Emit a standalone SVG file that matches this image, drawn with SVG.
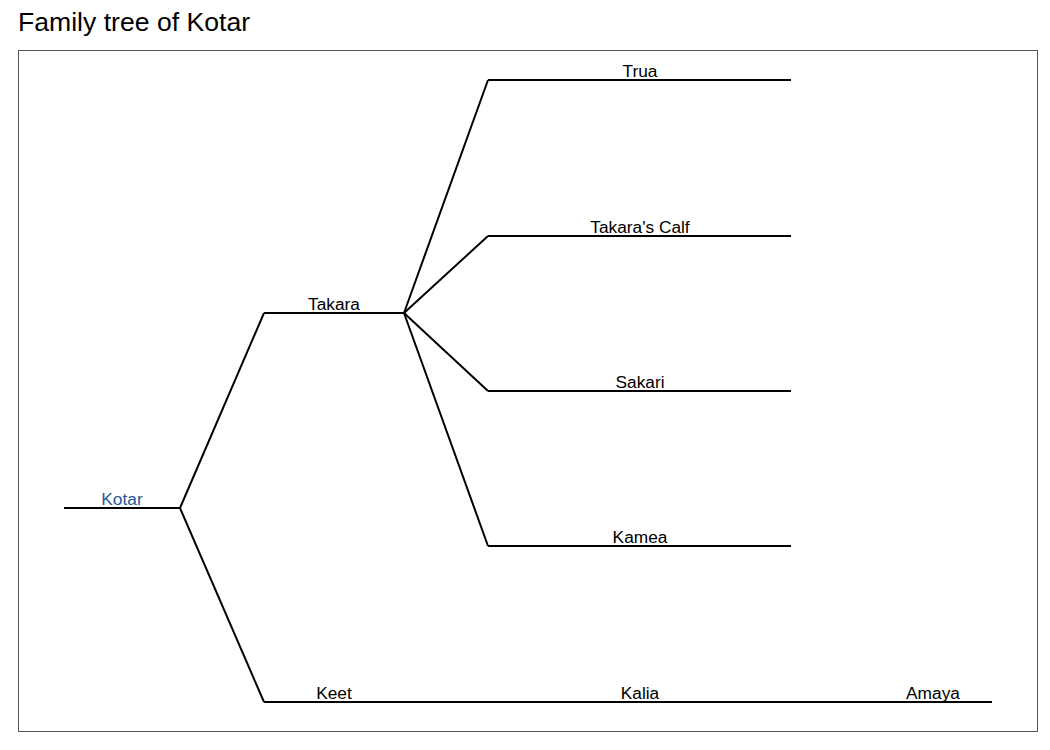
<svg xmlns="http://www.w3.org/2000/svg" width="1050" height="750" viewBox="0 0 1050 750">
<style>
.t{font-family:"Liberation Sans",Arial,sans-serif;font-size:17.3px;fill:#000;text-anchor:middle}
.ln{stroke:#000;stroke-width:2;fill:none}
</style>
<rect width="1050" height="750" fill="#fff"/>
<text x="18" y="31" font-family="Liberation Sans, Arial, sans-serif" font-size="26.6" fill="#000">Family tree of Kotar</text>
<rect x="18.5" y="50.5" width="1019" height="681" fill="none" stroke="#555" stroke-width="1"/>
<g id="connectors" class="ln">
<line x1="180" y1="508" x2="264" y2="313"/>
<line x1="180" y1="508" x2="264" y2="702"/>
<line x1="404" y1="313" x2="488" y2="80"/>
<line x1="404" y1="313" x2="488" y2="236"/>
<line x1="404" y1="313" x2="488" y2="391"/>
<line x1="404" y1="313" x2="488" y2="546"/>
<line x1="404" y1="702" x2="488" y2="702"/>
<line x1="791" y1="702" x2="875" y2="702"/>
</g>
<g id="kotar"><line class="ln" x1="64" y1="508" x2="180" y2="508"/><text class="t" x="122" y="505" style="fill:#235a98">Kotar</text></g>
<g id="takara"><line class="ln" x1="264" y1="313" x2="404" y2="313"/><text class="t" x="334" y="310">Takara</text></g>
<g id="keet"><line class="ln" x1="264" y1="702" x2="404" y2="702"/><text class="t" x="334" y="699">Keet</text></g>
<g id="trua"><line class="ln" x1="488" y1="80" x2="791" y2="80"/><text class="t" x="640" y="77">Trua</text></g>
<g id="takaras-calf"><line class="ln" x1="488" y1="236" x2="791" y2="236"/><text class="t" x="640" y="233">Takara's Calf</text></g>
<g id="sakari"><line class="ln" x1="488" y1="391" x2="791" y2="391"/><text class="t" x="640" y="388">Sakari</text></g>
<g id="kamea"><line class="ln" x1="488" y1="546" x2="791" y2="546"/><text class="t" x="640" y="543">Kamea</text></g>
<g id="kalia"><line class="ln" x1="488" y1="702" x2="791" y2="702"/><text class="t" x="640" y="699">Kalia</text></g>
<g id="amaya"><line class="ln" x1="875" y1="702" x2="992" y2="702"/><text class="t" x="933" y="699">Amaya</text></g>
</svg>
